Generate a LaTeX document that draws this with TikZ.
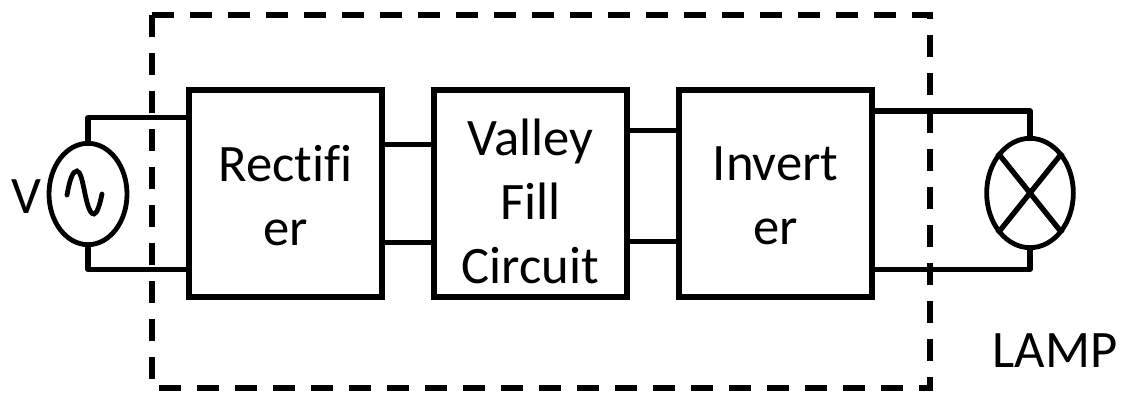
\documentclass[tikz,border=0pt]{standalone}
\usepackage{fontspec}
\setmainfont[Ligatures=NoCommon]{Carlito}
\usetikzlibrary{shapes.geometric}
\tikzset{
 wire/.style={line width=4pt,black,line join=round},
 blockbox/.style={draw=black,line width=4pt,inner sep=0pt,minimum height=155.25pt},
 boxtext/.style={inner sep=0pt,align=center,font=\fontsize{39.5}{48}\selectfont},
 roundel/.style={draw=black,line width=3.6pt,ellipse,inner sep=0pt},
 lbl/.style={inner sep=0pt,font=\fontsize{39.5}{48}\selectfont}
}
\begin{document}
\begin{tikzpicture}[x=0.75pt,y=-0.75pt]
\useasboundingbox (0,0) rectangle (1127,394);
\draw[line width=4pt,dash pattern=on 16.5pt off 12pt] (152,15) rectangle (930,388);
\node[blockbox,minimum width=144.75pt] (rect) at (285.5,193.5) {};
\node[blockbox,minimum width=144.75pt] (vf) at (530.5,193.5) {};
\node[blockbox,minimum width=144.75pt] (inv) at (775.5,193.5) {};
\node[boxtext] (recttext) at (285.5,196) {Rectifi\\er};
\node[boxtext] (vftext) at (530.5,201) {Valley\\Fill\\Circuit};
\node[boxtext] (invtext) at (775.5,196) {Invert\\er};
\node[roundel,minimum width=58.5pt,minimum height=76pt] (src) at (88,194) {};
\node[roundel,minimum width=65pt,minimum height=82pt] (lamp) at (1030,193) {};
\node[lbl] (vlabel) at (26,197) {V};
\node[lbl] (lamplabel) at (1055,351) {LAMP};
\draw[wire] (src.north) -- (88,117.5) -- (rect.west |- 0,117.5);
\draw[wire] (src.south) -- (88,269.5) -- (rect.west |- 0,269.5);
\draw[wire] (rect.east |- 0,144.5) -- (vf.west |- 0,144.5);
\draw[wire] (rect.east |- 0,242.5) -- (vf.west |- 0,242.5);
\draw[wire] (vf.east |- 0,130.5) -- (inv.west |- 0,130.5);
\draw[wire] (vf.east |- 0,241.5) -- (inv.west |- 0,241.5);
\draw[wire] (inv.east |- 0,111) -- (1030,111) -- (lamp.north);
\draw[wire] (inv.east |- 0,269.5) -- (1030,269.5) -- (lamp.south);
\draw[wire] (lamp.north west) -- (lamp.south east);
\draw[wire] (lamp.north east) -- (lamp.south west);
\draw[line width=3.6pt,line cap=round] (67,195) .. controls (70,178) and (73,171) .. (77,171) .. controls (84,171) and (85,214) .. (94,214) .. controls (97,214) and (100,204) .. (102,194);
\end{tikzpicture}
\end{document}
